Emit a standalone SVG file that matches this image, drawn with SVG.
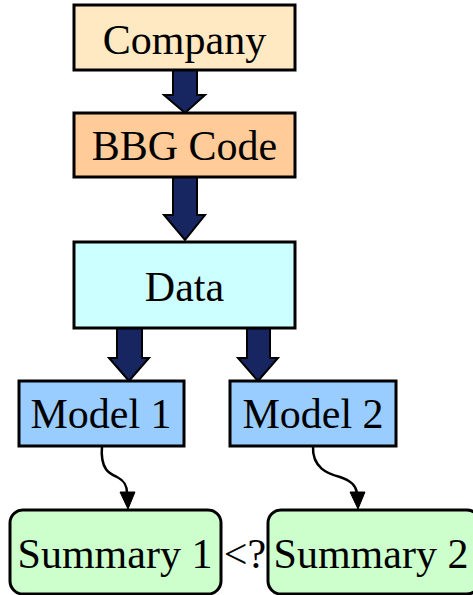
<svg xmlns="http://www.w3.org/2000/svg" width="473" height="595" viewBox="0 0 473 595">
  <defs>
    <style>
      .box { stroke: #000; stroke-width: 3; }
      .lbl { font-family: "Liberation Serif", "Times New Roman", serif; font-size: 42px; fill: #000; text-anchor: middle; }
      .block { fill: #172560; stroke: #000; stroke-width: 2; stroke-linejoin: miter; }
      .curve { fill: none; stroke: #000; stroke-width: 2.5; }
      .head { fill: #000; stroke: #000; stroke-width: 1; }
    </style>
  </defs>
  <rect width="473" height="595" fill="#fff"/>

  <g id="connectors">
    <!-- block arrows -->
    <path class="block" d="M173,70 L197,70 L197,95 L205,95 L185,113 L164,95 L173,95 Z"/>
    <path class="block" d="M173,177 L197,177 L197,215 L205,215 L185,240 L164,215 L173,215 Z"/>
    <path class="block" d="M117,328 L142,328 L142,358 L149,358 L129,381 L109,358 L117,358 Z"/>
    <path class="block" d="M247,328 L270,328 L270,358 L278,358 L258,381 L238,358 L247,358 Z"/>
    <!-- curved arrows to summaries -->
    <path class="curve" d="M102,446 C100,470 110,474 117,477 C125,481 127,486 127,493"/>
    <path class="head" d="M120,492 L135,492 L128,509 Z"/>
    <path class="curve" d="M313,446 C312,468 328,474 340,477 C352,481 356,486 357,493"/>
    <path class="head" d="M350,492 L365,492 L358,509 Z"/>
  </g>

  <g id="company">
    <rect class="box" x="74" y="5" width="221" height="65" fill="#FFE9C2"/>
    <text class="lbl" x="184.5" y="54">Company</text>
  </g>
  <g id="bbg-code">
    <rect class="box" x="74" y="113" width="221" height="64" fill="#FFCC99"/>
    <text class="lbl" x="184.5" y="160">BBG Code</text>
  </g>
  <g id="data">
    <rect class="box" x="74" y="242" width="221" height="86" fill="#CCFFFF"/>
    <text class="lbl" x="184.5" y="301">Data</text>
  </g>
  <g id="model-1">
    <rect class="box" x="19" y="381" width="165" height="65" fill="#99CCFF"/>
    <text class="lbl" x="101" y="428">Model 1</text>
  </g>
  <g id="model-2">
    <rect class="box" x="230" y="381" width="166" height="65" fill="#99CCFF"/>
    <text class="lbl" x="313" y="428">Model 2</text>
  </g>
  <g id="summary-1">
    <rect class="box" x="10" y="510" width="211" height="84" rx="13" fill="#CCFFCC"/>
    <text class="lbl" x="115" y="568">Summary 1</text>
  </g>
  <g id="compare">
    <text class="lbl" x="245" y="568">&lt;?</text>
  </g>
  <g id="summary-2">
    <rect class="box" x="268" y="510" width="212" height="84" rx="13" fill="#CCFFCC"/>
    <text class="lbl" x="371" y="568">Summary 2</text>
  </g>
</svg>
